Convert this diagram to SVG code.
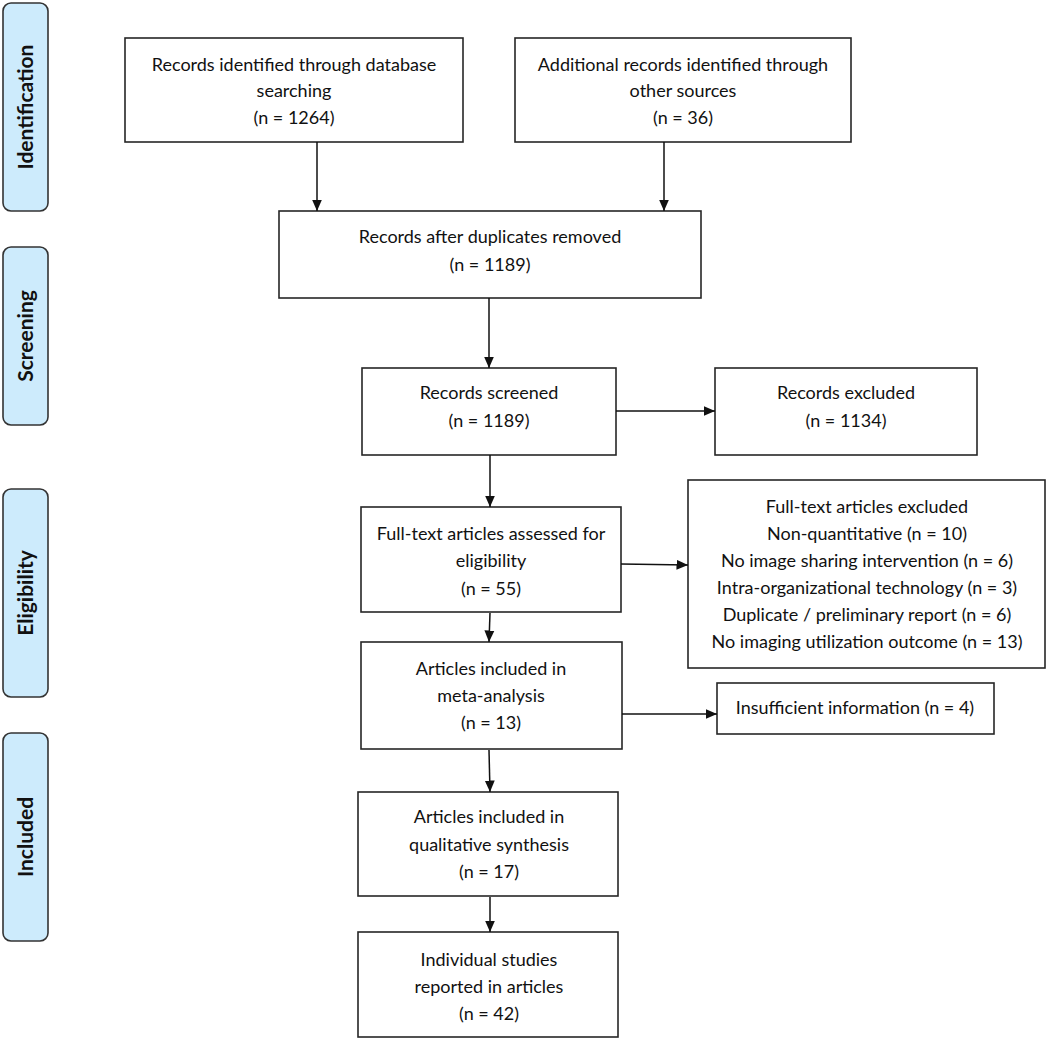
<svg xmlns="http://www.w3.org/2000/svg" width="1050" height="1041" viewBox="0 0 1050 1041">
<defs>
<style>
.box{fill:#fff;stroke:#262626;stroke-width:1.6}
.side{fill:#cdebfc;stroke:#333;stroke-width:1.6}
.t{font-family:Lato,"Liberation Sans",Arial,sans-serif;font-size:18px;fill:#111;text-anchor:middle}
.s{font-family:Lato,"Liberation Sans",Arial,sans-serif;font-size:21px;font-weight:bold;fill:#111;text-anchor:middle}
.c{stroke:#111;stroke-width:1.5;fill:none;marker-end:url(#ah)}
</style>
<marker id="ah" markerUnits="userSpaceOnUse" markerWidth="12" markerHeight="12" viewBox="0 0 12 12" refX="11.5" refY="6" orient="auto">
<path d="M0,1 L11.5,6 L0,11 z" fill="#111"/>
</marker>
</defs>
<rect width="1050" height="1041" fill="#fff"/>
<g id="side-identification"><rect class="side" x="3" y="3" width="45" height="208" rx="8"/><text class="s" transform="translate(25.5,107) rotate(-90)" dy="7.5">Identification</text></g>
<g id="side-screening"><rect class="side" x="3" y="247" width="45" height="178" rx="8"/><text class="s" transform="translate(25.5,336) rotate(-90)" dy="7.5">Screening</text></g>
<g id="side-eligibility"><rect class="side" x="3" y="489" width="45" height="208" rx="8"/><text class="s" transform="translate(25.5,593) rotate(-90)" dy="7.5">Eligibility</text></g>
<g id="side-included"><rect class="side" x="3" y="733" width="45" height="208" rx="8"/><text class="s" transform="translate(25.5,837) rotate(-90)" dy="7.5">Included</text></g>

<g id="n-db"><rect class="box" x="125" y="38" width="338" height="104"/>
<text class="t" x="294" y="71">Records identified through database</text>
<text class="t" x="294" y="97">searching</text>
<text class="t" x="294" y="124">(n = 1264)</text></g>
<g id="n-other"><rect class="box" x="515" y="38" width="336" height="104"/>
<text class="t" x="683" y="71">Additional records identified through</text>
<text class="t" x="683" y="97">other sources</text>
<text class="t" x="683" y="124">(n = 36)</text></g>
<g id="n-dup"><rect class="box" x="279" y="211" width="422" height="87"/>
<text class="t" x="490" y="243">Records after duplicates removed</text>
<text class="t" x="490" y="271">(n = 1189)</text></g>
<g id="n-screened"><rect class="box" x="362" y="368" width="254" height="87"/>
<text class="t" x="489" y="399">Records screened</text>
<text class="t" x="489" y="427">(n = 1189)</text></g>
<g id="n-excluded"><rect class="box" x="715" y="368" width="262" height="87"/>
<text class="t" x="846" y="399">Records excluded</text>
<text class="t" x="846" y="427">(n = 1134)</text></g>
<g id="n-fulltext"><rect class="box" x="361" y="507" width="260" height="105"/>
<text class="t" x="491" y="540">Full-text articles assessed for</text>
<text class="t" x="491" y="567">eligibility</text>
<text class="t" x="491" y="595">(n = 55)</text></g>
<g id="n-ftexcl"><rect class="box" x="688" y="480" width="357" height="188"/>
<text class="t" x="867" y="513">Full-text articles excluded</text>
<text class="t" x="867" y="540">Non-quantitative (n = 10)</text>
<text class="t" x="867" y="567">No image sharing intervention (n = 6)</text>
<text class="t" x="867" y="594">Intra-organizational technology (n = 3)</text>
<text class="t" x="867" y="621">Duplicate / preliminary report (n = 6)</text>
<text class="t" x="867" y="648">No imaging utilization outcome (n = 13)</text></g>
<g id="n-meta"><rect class="box" x="361" y="642" width="261" height="107"/>
<text class="t" x="491" y="675">Articles included in</text>
<text class="t" x="491" y="702">meta-analysis</text>
<text class="t" x="491" y="729">(n = 13)</text></g>
<g id="n-insuff"><rect class="box" x="717" y="683" width="277" height="51"/>
<text class="t" x="855" y="714">Insufficient information (n = 4)</text></g>
<g id="n-qual"><rect class="box" x="358" y="792" width="260" height="104"/>
<text class="t" x="489" y="823">Articles included in</text>
<text class="t" x="489" y="851">qualitative synthesis</text>
<text class="t" x="489" y="878">(n = 17)</text></g>
<g id="n-indiv"><rect class="box" x="358" y="932" width="260" height="105"/>
<text class="t" x="489" y="966">Individual studies</text>
<text class="t" x="489" y="993">reported in articles</text>
<text class="t" x="489" y="1020">(n = 42)</text></g>

<g id="connectors">
<line class="c" x1="317" y1="142" x2="317" y2="211"/>
<line class="c" x1="664" y1="142" x2="664" y2="211"/>
<line class="c" x1="489" y1="298" x2="489" y2="368"/>
<line class="c" x1="616" y1="411" x2="715" y2="411"/>
<line class="c" x1="490" y1="455" x2="490" y2="507"/>
<line class="c" x1="621" y1="564" x2="688" y2="565"/>
<line class="c" x1="490" y1="613" x2="489" y2="642"/>
<line class="c" x1="622" y1="714" x2="717" y2="714"/>
<line class="c" x1="489" y1="750" x2="490" y2="792"/>
<line class="c" x1="490" y1="897" x2="490" y2="932"/>
</g>
</svg>
